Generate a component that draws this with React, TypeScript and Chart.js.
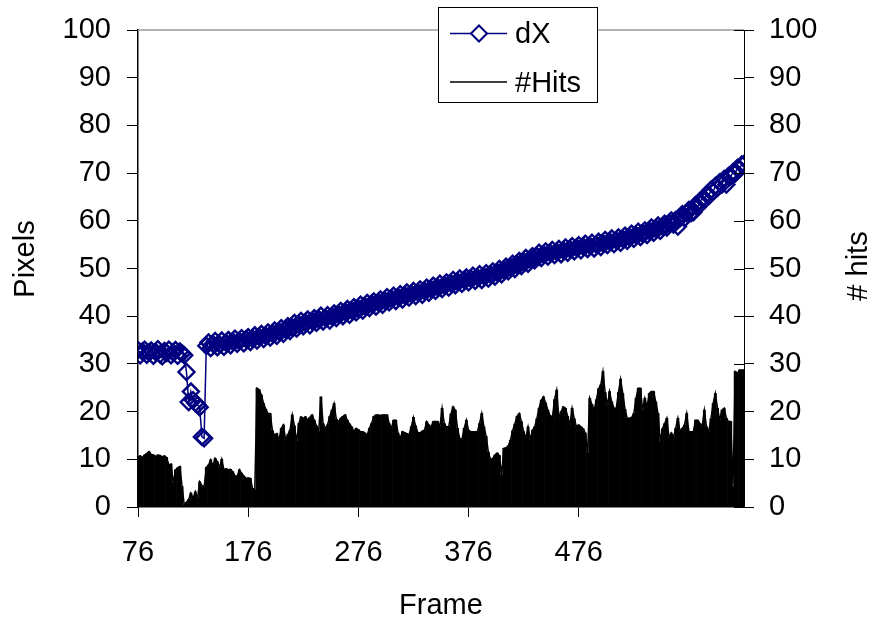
import { useEffect, useRef } from "react";
import { Chart, registerables } from "chart.js";

Chart.register(...registerables);

// Frame numbering of the samples
const FIRST_FRAME = 76;
const FRAME_STEP = 2;

// Axis tick positions
const X_TICKS = [76, 176, 276, 376, 476];
const Y_MIN = 0;
const Y_MAX = 100;
const Y_STEP = 10;

// Horizontal offset dX (pixels), one value per sampled frame
const DX = [
  32.9, 31.8, 32.6, 33.0, 31.9, 32.4, 32.8, 31.7, 32.5, 33.1,
  32.0, 31.6, 32.7, 32.3, 33.0, 31.8, 32.4, 32.9, 31.7, 32.6,
  32.2, 31.8, 28.3, 22.0, 24.2, 22.4, 21.8, 21.4, 20.9, 14.7,
  14.4, 33.8, 34.5, 33.3, 34.2, 34.8, 33.5, 34.1, 34.9, 33.6,
  34.4, 35.0, 33.9, 34.7, 35.3, 34.2, 34.8, 35.4, 34.3, 35.2,
  35.6, 34.6, 35.3, 36.0, 34.9, 35.7, 36.3, 35.2, 35.9, 36.6,
  35.5, 36.4, 37.0, 35.9, 36.8, 37.5, 36.3, 37.2, 37.9, 36.9,
  37.6, 38.6, 37.4, 38.3, 39.0, 37.9, 38.7, 39.3, 38.1, 39.0,
  39.6, 38.6, 39.4, 40.1, 38.9, 39.7, 40.2, 39.1, 39.9, 40.6,
  39.6, 40.4, 41.1, 40.0, 40.9, 41.5, 40.3, 41.2, 41.9, 40.8,
  41.6, 42.4, 41.2, 42.1, 42.8, 41.7, 42.6, 43.1, 42.0, 42.9,
  43.5, 42.4, 43.3, 44.0, 42.9, 43.7, 44.3, 43.2, 44.0, 44.6,
  43.5, 44.4, 45.0, 43.9, 44.7, 45.3, 44.2, 45.0, 45.6, 44.5,
  45.3, 46.0, 44.9, 45.7, 46.4, 45.3, 46.1, 46.8, 45.7, 46.5,
  47.1, 46.0, 46.9, 47.6, 46.5, 47.3, 47.9, 46.8, 47.6, 48.1,
  47.1, 47.9, 48.5, 47.4, 48.2, 48.8, 47.6, 48.4, 49.0, 47.9,
  48.7, 49.4, 48.3, 49.2, 49.9, 48.8, 49.7, 50.4, 49.4, 50.3,
  51.0, 49.9, 50.8, 51.6, 50.5, 51.4, 52.2, 51.0, 51.9, 52.6,
  51.7, 52.6, 53.3, 52.2, 53.0, 53.6, 52.5, 53.3, 53.9, 52.8,
  53.5, 54.1, 53.0, 53.8, 54.4, 53.3, 54.1, 54.7, 53.6, 54.4,
  54.9, 53.8, 54.6, 55.2, 54.1, 54.8, 55.4, 54.2, 55.0, 55.6,
  54.5, 55.3, 56.0, 54.9, 55.7, 56.3, 55.1, 55.9, 56.5, 55.4,
  56.2, 56.9, 55.8, 56.6, 57.3, 56.2, 57.0, 57.7, 56.6, 57.4,
  58.0, 57.0, 57.9, 58.6, 57.5, 58.4, 59.0, 57.9, 58.8, 59.4,
  58.6, 59.5, 60.1, 59.2, 60.2, 58.8, 60.6, 61.4, 60.5, 61.6,
  62.3, 61.6, 61.8, 63.3, 62.9, 64.1, 64.6, 64.3, 65.5, 65.2,
  66.5, 66.1, 67.3, 66.9, 68.1, 67.6, 68.8, 67.6, 69.4, 69.3,
  70.2, 69.9, 71.1, 70.9, 71.8, 71.9,
];

// Number of hits per sampled frame
const HITS = [
  10.5, 10.7, 10.4, 10.9, 11.2, 11.6, 11.0, 10.9, 10.6, 10.9,
  10.8, 10.5, 10.7, 10.4, 8.8, 9.0, 5.0, 7.8, 8.2, 8.5,
  4.3, 0.4, 1.0, 1.6, 2.9, 1.8, 3.2, 1.8, 5.3, 4.5,
  4.2, 8.3, 8.8, 9.9, 8.6, 10.2, 9.5, 8.3, 10.0, 7.8,
  8.0, 7.8, 7.9, 7.4, 6.6, 6.4, 7.8, 7.1, 6.5, 6.0,
  6.1, 6.0, 3.9, 3.6, 24.9, 24.6, 23.5, 21.7, 20.5, 19.6,
  19.6, 16.0, 15.0, 15.4, 14.0, 16.5, 17.2, 14.0, 15.2, 16.1,
  19.3, 17.0, 13.7, 17.5, 18.9, 18.6, 18.9, 18.2, 18.8, 19.3,
  18.2, 17.0, 15.8, 23.1, 17.5, 16.5, 17.2, 19.0, 20.3, 21.7,
  18.4, 17.9, 18.6, 19.0, 19.3, 18.2, 17.4, 16.8, 15.8, 16.5,
  16.2, 15.8, 15.8, 15.5, 15.1, 16.5, 17.5, 19.0, 19.3, 19.3,
  19.2, 19.3, 19.3, 19.3, 17.5, 16.5, 18.2, 18.2, 15.5, 14.4,
  15.8, 15.6, 15.4, 15.1, 16.8, 18.8, 17.0, 15.6, 15.5, 15.9,
  16.1, 17.9, 17.2, 16.8, 17.9, 17.9, 17.9, 16.8, 20.7, 17.5,
  16.8, 16.8, 19.5, 21.0, 20.3, 16.5, 14.4, 14.1, 16.5, 18.2,
  16.1, 15.8, 15.8, 15.8, 15.8, 17.5, 19.6, 16.8, 14.8, 11.5,
  9.9, 10.2, 10.9, 11.3, 10.8, 6.7, 12.3, 12.4, 12.8, 14.0,
  16.0, 17.4, 19.0, 19.6, 17.9, 15.8, 14.4, 16.8, 14.1, 16.1,
  16.8, 18.5, 20.7, 22.4, 23.1, 21.8, 20.3, 19.2, 18.6, 22.5,
  24.5, 18.6, 20.0, 21.0, 20.7, 19.0, 17.2, 20.7, 18.5, 16.8,
  17.2, 16.8, 16.4, 15.5, 11.3, 22.8, 21.5, 20.3, 22.5, 24.8,
  25.6, 28.4, 24.0, 21.4, 24.2, 22.0, 20.7, 20.7, 24.0, 26.8,
  23.8, 20.5, 18.6, 18.6, 18.8, 19.6, 22.8, 24.9, 24.9, 20.3,
  22.8, 21.0, 23.8, 24.2, 24.2, 22.0, 19.6, 13.7, 16.4, 17.5,
  18.6, 14.4, 15.5, 14.6, 16.5, 18.6, 15.8, 16.5, 17.2, 19.6,
  15.8, 15.8, 15.8, 18.2, 18.2, 17.5, 16.8, 20.3, 16.8, 15.8,
  18.5, 21.7, 23.8, 20.7, 18.2, 20.3, 20.7, 18.6, 17.9, 17.9,
  4.3, 28.4, 28.0, 28.7, 28.7, 28.7,
];

const FONT = "'Liberation Sans', Arial, Helvetica, sans-serif";
const FONT_SIZE = 29;
const NAVY = "#000080";
const X_MAX = FIRST_FRAME + (DX.length - 1) * FRAME_STEP;

// Frame border, inner ticks of the right axis, axis titles and the legend box
const decorations = {
  id: "decorations",
  afterDraw(chart: any) {
    const { ctx, chartArea } = chart;
    const { left, right, top } = chartArea;
    ctx.save();

    // light top edge of the plot frame
    ctx.strokeStyle = "#9a9a9a";
    ctx.lineWidth = 1.5;
    ctx.beginPath();
    ctx.moveTo(left, top);
    ctx.lineTo(right, top);
    ctx.stroke();

    // right axis ticks cross the axis line
    const y1 = chart.scales.y1;
    ctx.strokeStyle = "#000";
    ctx.lineWidth = 1;
    y1.ticks.forEach((t: any) => {
      const py = Math.round(y1.getPixelForValue(t.value)) + 0.5;
      ctx.beginPath();
      ctx.moveTo(right - 10, py);
      ctx.lineTo(right, py);
      ctx.stroke();
    });

    ctx.fillStyle = "#000";
    ctx.font = `${FONT_SIZE}px ${FONT}`;
    ctx.textBaseline = "alphabetic";

    // axis titles
    ctx.textAlign = "center";
    ctx.fillText("Frame", (left + right) / 2, 614);

    ctx.save();
    ctx.translate(34, 259);
    ctx.rotate(-Math.PI / 2);
    ctx.fillText("Pixels", 0, 0);
    ctx.restore();

    ctx.save();
    ctx.translate(867, 266);
    ctx.rotate(-Math.PI / 2);
    ctx.fillText("# hits", 0, 0);
    ctx.restore();

    // legend
    const bx = 438.5, by = 7.5, bw = 159, bh = 95;
    ctx.fillStyle = "#fff";
    ctx.fillRect(bx, by, bw, bh);
    ctx.strokeStyle = "#000";
    ctx.lineWidth = 1;
    ctx.strokeRect(bx, by, bw, bh);

    const sx0 = 450, sx1 = 507, rowA = 33.5, rowB = 82;
    ctx.strokeStyle = NAVY;
    ctx.lineWidth = 1.5;
    ctx.beginPath();
    ctx.moveTo(sx0, rowA);
    ctx.lineTo(sx1, rowA);
    ctx.stroke();
    const cx = 479, r = 8;
    ctx.fillStyle = "#fff";
    ctx.lineWidth = 2;
    ctx.beginPath();
    ctx.moveTo(cx - r, rowA);
    ctx.lineTo(cx, rowA - r);
    ctx.lineTo(cx + r, rowA);
    ctx.lineTo(cx, rowA + r);
    ctx.closePath();
    ctx.fill();
    ctx.stroke();

    ctx.strokeStyle = "#000";
    ctx.lineWidth = 1.5;
    ctx.beginPath();
    ctx.moveTo(sx0, rowB);
    ctx.lineTo(sx1, rowB);
    ctx.stroke();

    ctx.fillStyle = "#000";
    ctx.textAlign = "left";
    ctx.fillText("dX", 515, 43);
    ctx.fillText("#Hits", 515, 92);

    ctx.restore();
  },
};

// Vertical axes: fixed widths, no extra room reserved for the end labels
const fitVertical = (width: number) => (scale: any) => {
  scale.width = width;
  scale.paddingTop = 0;
  scale.paddingBottom = 0;
};

export default function App() {
  const canvasRef = useRef<HTMLCanvasElement | null>(null);

  useEffect(() => {
    const canvas = canvasRef.current;
    if (!canvas) return;

    const frames = DX.map((_, i) => FIRST_FRAME + i * FRAME_STEP);
    const dxPoints = DX.map((v, i) => ({ x: frames[i], y: v }));
    const hitPoints = HITS.map((v, i) => ({ x: frames[i], y: v }));

    const tickFont = { family: FONT, size: FONT_SIZE };

    const chart = new Chart(canvas, {
      type: "line",
      data: {
        datasets: [
          {
            type: "line",
            label: "dX",
            data: dxPoints,
            yAxisID: "y",
            borderColor: NAVY,
            borderWidth: 1.5,
            pointStyle: "rectRot",
            pointRadius: 8,
            pointBorderWidth: 2.4,
            pointBorderColor: NAVY,
            pointBackgroundColor: "rgba(0,0,0,0)",
            tension: 0,
            order: 0,
          },
          {
            type: "line",
            label: "#Hits",
            data: hitPoints,
            yAxisID: "y1",
            borderColor: "#000",
            borderWidth: 1.5,
            pointRadius: 0,
            tension: 0,
            order: 1,
          },
          {
            type: "bar",
            label: "#Hits drop lines",
            data: hitPoints,
            yAxisID: "y1",
            backgroundColor: "#000",
            borderWidth: 0,
            barPercentage: 1,
            categoryPercentage: 1,
            order: 2,
          },
        ],
      } as any,
      options: {
        animation: false,
        responsive: true,
        maintainAspectRatio: false,
        layout: { padding: { top: 30, left: 0, right: 0, bottom: 0 } },
        plugins: {
          legend: { display: false },
          tooltip: { enabled: false },
        },
        scales: {
          x: {
            type: "linear",
            min: FIRST_FRAME,
            max: X_MAX,
            offset: false,
            afterBuildTicks: (scale: any) => {
              scale.ticks = X_TICKS.map((v) => ({ value: v }));
            },
            afterFit: (scale: any) => {
              scale.height = 116;
              scale.paddingLeft = 0;
              scale.paddingRight = 0;
            },
            grid: {
              drawOnChartArea: false,
              drawTicks: true,
              tickLength: 10,
              tickColor: "#000",
              offset: false,
            },
            border: { color: "#000", width: 1.5 },
            ticks: {
              font: tickFont,
              color: "#000",
              padding: 19,
              maxRotation: 0,
              autoSkip: false,
            },
          },
          y: {
            type: "linear",
            position: "left",
            min: Y_MIN,
            max: Y_MAX,
            afterFit: fitVertical(138),
            grid: {
              drawOnChartArea: false,
              drawTicks: true,
              tickLength: 11,
              tickColor: "#000",
            },
            border: { color: "#000", width: 1.5 },
            ticks: {
              stepSize: Y_STEP,
              font: tickFont,
              color: "#000",
              padding: 16,
            },
          },
          y1: {
            type: "linear",
            position: "right",
            min: Y_MIN,
            max: Y_MAX,
            afterFit: fitVertical(129),
            grid: {
              drawOnChartArea: false,
              drawTicks: true,
              tickLength: 10,
              tickColor: "#000",
            },
            border: { color: "#000", width: 1 },
            ticks: {
              stepSize: Y_STEP,
              font: tickFont,
              color: "#000",
              padding: 15,
            },
          },
        },
      } as any,
      plugins: [decorations],
    });

    return () => chart.destroy();
  }, []);

  return (
    <div
      style={{
        position: "fixed",
        left: 0,
        top: 0,
        width: 873,
        height: 623,
        background: "#fff",
      }}
    >
      <canvas ref={canvasRef} />
    </div>
  );
}
